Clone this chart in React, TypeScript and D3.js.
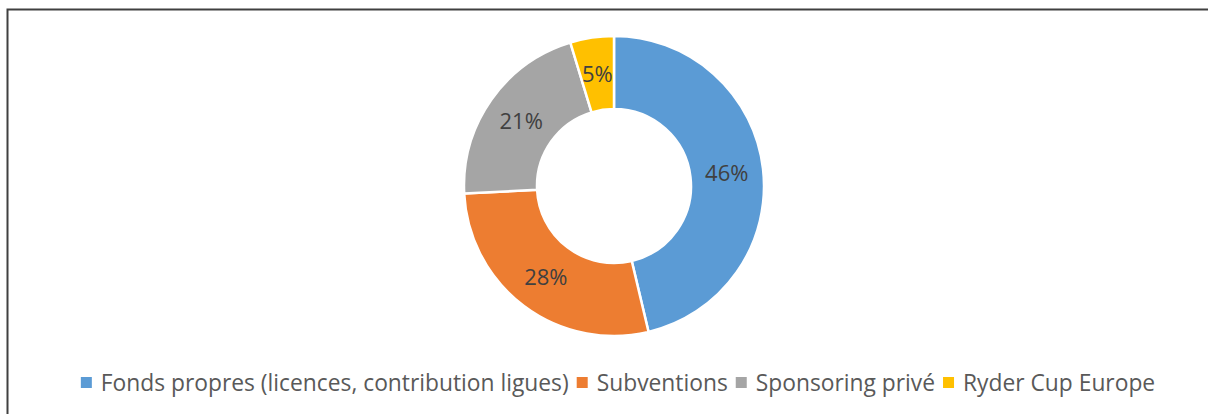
import { useEffect, useRef } from 'react'
import * as d3 from 'd3'

const categories = [
  'Fonds propres (licences, contribution ligues)',
  'Subventions',
  'Sponsoring privé',
  'Ryder Cup Europe',
]
const shares = [46.3, 27.9, 21.1, 4.7]
const colors = ['#5B9BD5', '#ED7D31', '#A5A5A5', '#FFC000']

const W = 1208
const H = 414
const FONT = '"Open Sans", "Noto Sans", sans-serif'

export default function App() {
  const ref = useRef<SVGSVGElement | null>(null)

  useEffect(() => {
    if (!ref.current) return
    const svg = d3.select(ref.current)
    svg.selectAll('*').remove()

    // frame (only top and left edges visible)
    svg.append('path')
      .attr('d', `M7.5,${H} V9.5 H${W}`)
      .attr('fill', 'none')
      .attr('stroke', '#404040')
      .attr('stroke-width', 2)

    const cx = 614
    const cy = 186
    const outer = 150
    const inner = 77

    const data = categories.map((c, i) => ({ name: c, value: shares[i], color: colors[i] }))
    const total = d3.sum(shares)

    const pie = d3.pie<any>().sort(null).value(d => d.value)
    const arc = d3.arc<any>().innerRadius(inner).outerRadius(outer)
    const labelArc = d3.arc<any>().innerRadius((inner + outer) / 2).outerRadius((inner + outer) / 2)

    const g = svg.append('g').attr('transform', `translate(${cx},${cy})`)
    const arcs = pie(data)

    g.selectAll('.slice')
      .data(arcs)
      .enter()
      .append('path')
      .attr('class', 'slice')
      .attr('d', arc)
      .attr('fill', d => d.data.color)
      .attr('stroke', '#fff')
      .attr('stroke-width', 2.5)

    g.selectAll('.lbl')
      .data(arcs)
      .enter()
      .append('text')
      .attr('class', 'lbl')
      .attr('transform', d => `translate(${labelArc.centroid(d)})`)
      .attr('text-anchor', 'middle')
      .attr('dy', '0.36em')
      .attr('fill', '#404040')
      .attr('font-family', FONT)
      .attr('font-size', 22)
      .text(d => `${Math.round((d.data.value / total) * 100)}%`)

    // legend
    const legend = svg.append('g')
    const sq = 11
    const gapIn = 9
    const gapOut = 8
    const baseY = 391
    const items = legend.selectAll('.item')
      .data(data)
      .enter()
      .append('g')
      .attr('class', 'item')

    items.append('rect')
      .attr('width', sq)
      .attr('height', sq)
      .attr('y', baseY - 14)
      .attr('fill', d => d.color)

    items.append('text')
      .attr('x', sq + gapIn)
      .attr('y', baseY)
      .attr('fill', '#595959')
      .attr('font-family', FONT)
      .attr('font-size', 22.8)
      .text(d => d.name)

    const widths: number[] = []
    items.each(function () {
      const t = d3.select(this).select('text').node() as SVGTextElement
      widths.push(sq + gapIn + t.getComputedTextLength())
    })
    const totalW = d3.sum(widths) + gapOut * (widths.length - 1)
    let x = 618 - totalW / 2
    items.attr('transform', (_, i) => {
      const tx = x
      x += widths[i] + gapOut
      return `translate(${tx},0)`
    })
  }, [])

  return (
    <svg
      ref={ref}
      width={W}
      height={H}
      style={{ position: 'absolute', left: 0, top: 0, background: '#fff' }}
    />
  )
}
